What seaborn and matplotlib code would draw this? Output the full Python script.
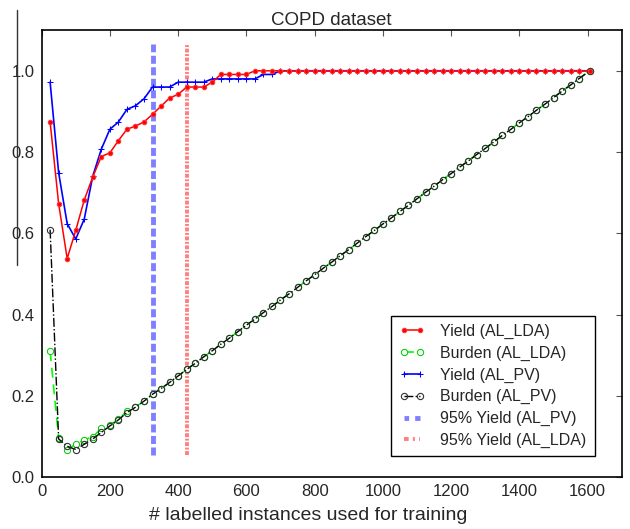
import matplotlib
matplotlib.use("Agg")
import matplotlib.pyplot as plt
from matplotlib.lines import Line2D
import seaborn as sns

# labelled instances (x positions of every curve point)
n_labelled = [25, 50, 75, 100, 125, 150, 175, 200, 225, 250, 275, 300, 325, 350, 375, 400,
              425, 450, 475, 500, 525, 550, 575, 600, 625, 650, 675, 700, 725, 750, 775, 800,
              825, 850, 875, 900, 925, 950, 975, 1000, 1025, 1050, 1075, 1100, 1125, 1150,
              1175, 1200, 1225, 1250, 1275, 1300, 1325, 1350, 1375, 1400, 1425, 1450, 1475,
              1500, 1525, 1550, 1575, 1606]

yield_lda = [0.874, 0.673, 0.538, 0.607, 0.682, 0.739, 0.789, 0.798, 0.828, 0.856, 0.864,
             0.874, 0.893, 0.913, 0.933, 0.942, 0.960, 0.960, 0.960, 0.972, 0.991, 0.991,
             0.991, 0.991, 1.0, 1.0, 1.0, 1.0, 1.0, 1.0, 1.0, 1.0, 1.0, 1.0, 1.0, 1.0, 1.0,
             1.0, 1.0, 1.0, 1.0, 1.0, 1.0, 1.0, 1.0, 1.0, 1.0, 1.0, 1.0, 1.0, 1.0, 1.0, 1.0,
             1.0, 1.0, 1.0, 1.0, 1.0, 1.0, 1.0, 1.0, 1.0, 1.0, 1.0]

yield_pv = [0.972, 0.749, 0.624, 0.586, 0.635, 0.741, 0.807, 0.856, 0.874, 0.905, 0.914,
            0.931, 0.960, 0.960, 0.960, 0.972, 0.972, 0.972, 0.972, 0.980, 0.980, 0.980,
            0.980, 0.980, 0.980, 0.991, 0.991, 1.0, 1.0, 1.0, 1.0, 1.0, 1.0, 1.0, 1.0, 1.0,
            1.0, 1.0, 1.0, 1.0, 1.0, 1.0, 1.0, 1.0, 1.0, 1.0, 1.0, 1.0, 1.0, 1.0, 1.0, 1.0,
            1.0, 1.0, 1.0, 1.0, 1.0, 1.0, 1.0, 1.0, 1.0, 1.0, 1.0, 1.0]

burden_lda = [0.310, 0.096, 0.068, 0.081, 0.092, 0.099, 0.120, 0.128, 0.142, 0.163, 0.173,
              0.187, 0.204, 0.218, 0.233, 0.249, 0.265, 0.280, 0.296, 0.311, 0.327, 0.342,
              0.358, 0.374, 0.389, 0.405, 0.420, 0.436, 0.451, 0.467, 0.483, 0.498, 0.514,
              0.529, 0.545, 0.560, 0.576, 0.592, 0.607, 0.623, 0.638, 0.654, 0.669, 0.685,
              0.701, 0.716, 0.732, 0.747, 0.763, 0.778, 0.794, 0.809, 0.825, 0.841, 0.856,
              0.872, 0.887, 0.903, 0.918, 0.934, 0.950, 0.965, 0.981, 1.0]

burden_pv = [0.609, 0.094, 0.076, 0.068, 0.081, 0.094, 0.110, 0.126, 0.141, 0.159, 0.172,
             0.187, 0.204, 0.218, 0.233, 0.249, 0.265, 0.280, 0.296, 0.311, 0.327, 0.342,
             0.358, 0.374, 0.389, 0.405, 0.420, 0.436, 0.451, 0.467, 0.483, 0.498, 0.514,
             0.529, 0.545, 0.560, 0.576, 0.592, 0.607, 0.623, 0.638, 0.654, 0.669, 0.685,
             0.701, 0.716, 0.732, 0.747, 0.763, 0.778, 0.794, 0.809, 0.825, 0.841, 0.856,
             0.872, 0.887, 0.903, 0.918, 0.934, 0.950, 0.965, 0.981, 1.0]

# first point where yield reaches 95%
yield95_pv = 325
yield95_lda = 425

x_ticks = [0, 200, 400, 600, 800, 1000, 1200, 1400, 1600]
y_ticks = [0.0, 0.2, 0.4, 0.6, 0.8, 1.0]

sns.set_style("white")
plt.rcParams["font.family"] = ["Liberation Sans", "DejaVu Sans"]
plt.rcParams["xtick.direction"] = "in"
plt.rcParams["ytick.direction"] = "in"
plt.rcParams["xtick.top"] = True
plt.rcParams["ytick.right"] = True

fig = plt.figure(figsize=(6.3, 5.29), dpi=100)
ax = fig.add_axes([0.066, 0.098, 0.921, 0.845])

sns.lineplot(x=n_labelled, y=yield_lda, ax=ax, color="#ff0000", lw=1.1, marker="o",
             markersize=3.2, markeredgecolor="#ff3333", label="Yield (AL_LDA)", zorder=4)
sns.lineplot(x=n_labelled, y=burden_lda, ax=ax, color="#00ff00", lw=1.2, linestyle=(0, (6, 4)),
             marker="o", markersize=4.5, markerfacecolor="white", markeredgecolor="#00cc00",
             label="Burden (AL_LDA)", zorder=3)
sns.lineplot(x=n_labelled, y=yield_pv, ax=ax, color="#0000ff", lw=1.2, marker="+",
             markersize=4, markeredgecolor="#0000ff", label="Yield (AL_PV)", zorder=3)
sns.lineplot(x=n_labelled, y=burden_pv, ax=ax, color="black", lw=1, linestyle="-.",
             marker="o", markersize=4.5, markerfacecolor="none", markeredgecolor="#333333",
             markeredgewidth=0.8, label="Burden (AL_PV)", zorder=3.5)
ax.axvline(yield95_pv, ymin=0.05, ymax=0.97, color="#0000ff", alpha=0.5, lw=3.5,
           linestyle=(0, (1.65, 0.72)), label="95% Yield (AL_PV)")
ax.axvline(yield95_lda, ymin=0.05, ymax=0.97, color="#ff0000", alpha=0.5, lw=2.8,
           linestyle=(0, (1.0, 0.4, 0.5, 0.4)), label="95% Yield (AL_LDA)")

ax.set_xlim(0, 1700)
ax.set_ylim(0, 1.1)
ax.set_xticks(x_ticks)
ax.set_yticks(y_ticks)
ax.tick_params(labelsize=12, length=4, width=0.8, color="#555555", pad=5)
for s in ax.spines.values():
    s.set_color("black")
    s.set_linewidth(1.2)

ax.set_title("COPD dataset", fontsize=13.5, pad=4)
ax.set_xlabel("# labelled instances used for training", fontsize=14, labelpad=6)
ax.xaxis.label.set_x(0.46)

leg = ax.legend(loc="lower right", bbox_to_anchor=(0.953, 0.047), borderaxespad=0,
                fontsize=11.5, numpoints=2, handlelength=1.6, handletextpad=1.0,
                labelspacing=0.42, borderpad=0.5, fancybox=False, framealpha=1)
leg.get_frame().set_edgecolor("black")
leg.get_frame().set_linewidth(1)
# legend swatches of the threshold lines: two dashes / dash-dot-dash
leg.get_lines()[4].set_linestyle((0.5, (1.45, 1.25)))
leg.get_lines()[5].set_linestyle((0, (1.2, 1.1, 0.5, 1.1)))

# stray vertical rule at the far left of the original image
fig.add_artist(Line2D([17 / 630, 17 / 630], [1 - 10 / 529, 1 - 265 / 529],
                      transform=fig.transFigure, color="#333333", lw=1))

fig.savefig("out.png", dpi=100)
